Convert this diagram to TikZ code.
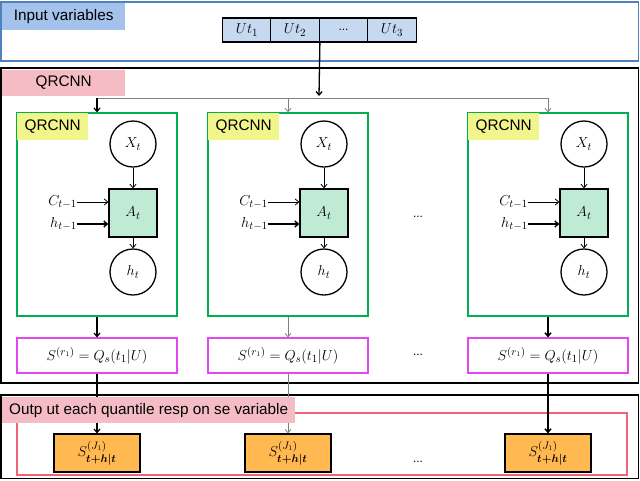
\documentclass[tikz,border=0pt]{standalone}
\usepackage{amsmath}
\usepackage{fontspec}
\setmainfont{Liberation Sans}
\usetikzlibrary{arrows.meta}
\definecolor{bluelbl}{RGB}{164,194,236}
\definecolor{utfill}{RGB}{198,217,241}
\definecolor{blueline}{RGB}{79,129,189}
\definecolor{pinklbl}{RGB}{245,188,198}
\definecolor{yellbl}{RGB}{240,245,140}
\definecolor{greenline}{RGB}{0,176,80}
\definecolor{afill}{RGB}{191,235,212}
\definecolor{magline}{RGB}{228,70,240}
\definecolor{redline}{RGB}{240,100,120}
\definecolor{orfill}{RGB}{255,185,80}
\begin{document}
\begin{tikzpicture}[x=1pt,y=-1pt,
  lbl/.style={font=\fontsize{15.3}{17}\selectfont, inner sep=0pt, anchor=north west},
  mth/.style={font=\fontsize{15}{17}\selectfont},
  arr/.style={-{Straight Barb[length=3.5pt,width=6pt]}},
  ucell/.style={draw, line width=1.3pt, fill=utfill, minimum width=48.5pt, minimum height=24pt, inner sep=0pt, mth},
  gbox/.style={draw=greenline, line width=1.3pt, minimum width=160pt, minimum height=203pt, inner sep=0pt},
  circ/.style={circle, draw, line width=1.3pt, minimum size=46pt, inner sep=0pt, mth},
  sq/.style={draw, line width=1.3pt, fill=afill, minimum size=48pt, inner sep=0pt, mth},
  mbox/.style={draw=magline, line width=1.2pt, minimum width=160pt, minimum height=35pt, inner sep=0pt, mth},
  obox/.style={draw, line width=1.2pt, fill=orfill, minimum width=86pt, minimum height=38pt, inner sep=0pt, mth},
  dots/.style={font=\fontsize{12}{13}\selectfont, inner sep=0pt}]
\useasboundingbox (0,0) rectangle (640,480);
\fill[white] (0,0) rectangle (640,480);

% frames
\draw[blueline, line width=1.5pt] (1,2) rectangle (638.5,61);
\draw[black, line width=1.5pt] (1,68) rectangle (638.5,383);
\draw[black, line width=1.5pt] (1,395) rectangle (638.5,478.5);
\draw[redline, line width=1.2pt] (17,413) rectangle (627,475);

% labels
\node[lbl, fill=bluelbl, minimum width=123pt, minimum height=27pt] (inlbl) at (2,3) {Input variables};
\node[lbl, fill=pinklbl, minimum width=123pt, minimum height=26pt] (qlbl) at (2,69.5) {QRCNN};

% input row
\node[ucell] (u1) at (247,30) {$Ut_1$};
\node[ucell] (u2) at (295,30) {$Ut_2$};
\node[ucell] (u3) at (343.5,30) {\fontsize{12}{13}\selectfont ...};
\node[ucell] (u4) at (392,30) {$Ut_3$};

\coordinate (bus) at (319,96);
\draw[black, line width=1.3pt, arr] (u2.south east) -- (bus);
\coordinate (b1) at (97,98);
\coordinate (b3) at (548,98);
\draw[gray, line width=0.8pt] (b1) -- (b3);

\foreach \i/\dx/\ca/\wa/\cb/\wb in {1/0/black/1.2pt/black/1.2pt, 2/191/gray/0.8pt/gray/0.8pt, 3/451/gray/0.8pt/black/1.5pt}{
  \node[gbox] (g\i) at (97+\dx,214.5) {};
  \node[lbl, fill=yellbl, minimum width=71pt, minimum height=27pt] (q\i) at ([shift={(0.7pt,-0.7pt)}]g\i.north west) {QRCNN};
  \coordinate (t\i) at (97+\dx,98);
  \draw[draw=\ca, line width=\wa, arr] (t\i) -- (g\i.north);
  \node[circ] (x\i) at (133+\dx,144) {$X_t$};
  \node[sq] (a\i) at (133+\dx,213) {$A_t$};
  \node[circ] (h\i) at (133+\dx,272) {$h_t$};
  \node[mth, anchor=east, inner sep=0pt] (c\i) at (77+\dx,202) {$C_{t-1}$};
  \node[mth, anchor=east, inner sep=0pt] (p\i) at (77+\dx,224) {$h_{t-1}$};
  \draw[black, line width=0.8pt, arr] (x\i) -- (a\i);
  \draw[black, line width=0.8pt, arr] (a\i) -- (h\i);
  \draw[black, line width=0.8pt, arr] (c\i.east) -- (c\i.east -| a\i.west);
  \draw[black, line width=1.4pt, arr] (p\i.east) -- (p\i.east -| a\i.west);
  \node[mbox] (s\i) at (97+\dx,355.5) {$S^{(r_1)} = Q_s(t_1|U)$};
  \draw[draw=\cb, line width=\wb, arr] (g\i) -- (s\i);
  \node[obox] (o\i) at (97+\dx,453) {$S^{(J_1)}_{\boldsymbol{t+h|t}}$};
  \draw[draw=\cb, line width=\wb, arr] (s\i) -- (o\i);
}

\node[dots] (d1) at (418,217) {...};
\node[dots] (d2) at (418,355) {...};
\node[dots] (d3) at (418,462) {...};

\node[lbl, fill=pinklbl, minimum width=293pt, minimum height=26pt] (olbl) at (2,397) {Outp ut each quantile resp on se variable};
\end{tikzpicture}
\end{document}
